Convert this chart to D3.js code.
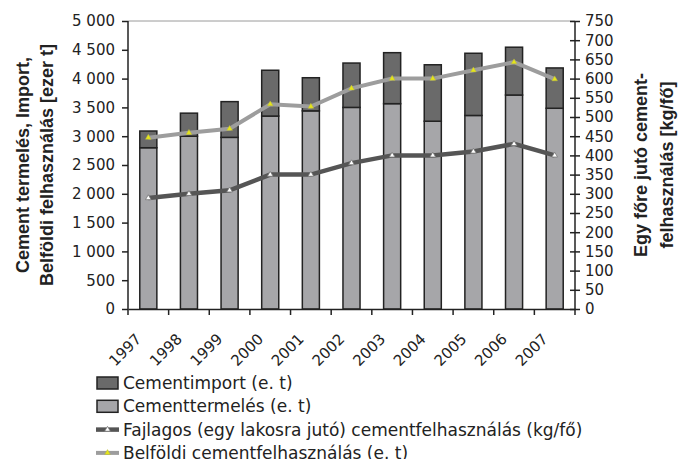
<!DOCTYPE html>
<html>
<head>
<meta charset="utf-8">
<script src="https://cdn.jsdelivr.net/npm/d3@7"></script>
<style>
  body { margin: 0; background: #fff; }
  svg { display: block; }
</style>
</head>
<body>
<svg></svg>
<script>
  // adatok
  let years = ['1997', '1998', '1999', '2000', '2001', '2002', '2003', '2004', '2005', '2006', '2007']
  let termeles = [2800, 3000, 2980, 3350, 3440, 3500, 3565, 3260, 3360, 3715, 3485]
  let importok = [290, 400, 620, 795, 575, 770, 885, 980, 1080, 830, 700]
  let belfoldi = [2975, 3060, 3130, 3555, 3515, 3830, 4000, 4000, 4145, 4285, 3990]
  let fajlagos = [289, 300, 309, 350, 350, 380, 400, 400, 410, 430, 400]
  let leftTicks = d3.range(0, 5001, 500)
  let rightTicks = d3.range(0, 751, 50)
  let legendLabels = ['Cementimport (e. t)', 'Cementtermelés (e. t)',
    'Fajlagos (egy lakosra jutó) cementfelhasználás (kg/fő)', 'Belföldi cementfelhasználás (e. t)']

  let svgWidth = 687, svgHeight = 459
  let plotLeft = 128, plotRight = 575, plotTop = 21, plotBottom = 309

  let svg = d3.select('svg')
    .attr('width', svgWidth)
    .attr('height', svgHeight)

  let loc = d3.formatLocale({ decimal: ',', thousands: ' ', grouping: [3], currency: ['', ''] })
  let fmt = loc.format(',d')

  let x = d3.scaleBand().domain(years).range([plotLeft, plotRight]).paddingInner(0.58).paddingOuter(0.29)
  let yL = d3.scaleLinear().domain([0, 5000]).range([plotBottom, plotTop])
  let yR = d3.scaleLinear().domain([0, 750]).range([plotBottom, plotTop])
  let cx = d => x(d) + x.bandwidth() / 2

  // felső keretvonal
  svg.append('line')
    .attr('x1', plotLeft).attr('x2', plotRight).attr('y1', plotTop).attr('y2', plotTop)
    .attr('stroke', '#9a9a9a').attr('stroke-width', 1)

  // oszlopok
  let bars = svg.append('g')
  bars.selectAll('.prod')
    .data(years)
    .enter()
    .append('rect')
    .attr('x', d => x(d))
    .attr('width', x.bandwidth())
    .attr('y', (d, i) => yL(termeles[i]))
    .attr('height', (d, i) => yL(0) - yL(termeles[i]))
    .attr('fill', '#a6a6a9')
    .attr('stroke', '#222')
    .attr('stroke-width', 1.5)
  bars.selectAll('.imp')
    .data(years)
    .enter()
    .append('rect')
    .attr('x', d => x(d))
    .attr('width', x.bandwidth())
    .attr('y', (d, i) => yL(termeles[i] + importok[i]))
    .attr('height', (d, i) => yL(termeles[i]) - yL(termeles[i] + importok[i]))
    .attr('fill', '#6a6a6a')
    .attr('stroke', '#222')
    .attr('stroke-width', 1.5)

  // vonalak
  let tri = d3.symbol().type(d3.symbolTriangle).size(14)
  let lineB = d3.line().x((d, i) => cx(years[i])).y(d => yL(d))
  let lineF = d3.line().x((d, i) => cx(years[i])).y(d => yR(d))

  svg.append('path').datum(belfoldi)
    .attr('d', lineB).attr('fill', 'none')
    .attr('stroke', '#9d9d9d').attr('stroke-width', 4)
  svg.append('g').selectAll('path')
    .data(belfoldi).enter().append('path')
    .attr('d', tri)
    .attr('transform', (d, i) => `translate(${cx(years[i])},${yL(d)})`)
    .attr('fill', '#e6e619').attr('stroke', '#b5b54a').attr('stroke-width', 0.5)

  svg.append('path').datum(fajlagos)
    .attr('d', lineF).attr('fill', 'none')
    .attr('stroke', '#555').attr('stroke-width', 4.5)
  svg.append('g').selectAll('path')
    .data(fajlagos).enter().append('path')
    .attr('d', tri)
    .attr('transform', (d, i) => `translate(${cx(years[i])},${yR(d)})`)
    .attr('fill', '#fff').attr('stroke', '#777').attr('stroke-width', 0.8)

  // tengelyek
  let tickFont = 'DejaVu Sans, Verdana, sans-serif'
  let axL = svg.append('g')
    .attr('transform', `translate(${plotLeft},0)`)
    .call(d3.axisLeft(yL).tickValues(leftTicks).tickFormat(fmt).tickSize(6).tickPadding(7))
  let axR = svg.append('g')
    .attr('transform', `translate(${plotRight},0)`)
    .call(d3.axisRight(yR).tickValues(rightTicks).tickSizeInner(5).tickSizeOuter(0).tickPadding(5))
  axR.selectAll('.tick line').attr('x1', -5)

  let axB = svg.append('g')
    .attr('transform', `translate(0,${plotBottom})`)
    .call(d3.axisBottom(x).tickSize(0).tickFormat(''))
  axB.selectAll('.tick').remove()
  axB.selectAll('.sep')
    .data(d3.range(years.length + 1))
    .enter()
    .append('line')
    .attr('x1', i => plotLeft + i * x.step()).attr('x2', i => plotLeft + i * x.step())
    .attr('y1', 0).attr('y2', 6)
    .attr('stroke', '#222').attr('stroke-width', 1.5)

  ;[axL, axR, axB].forEach(a => {
    a.select('.domain').attr('stroke', '#222').attr('stroke-width', 1.5)
    a.selectAll('.tick line').attr('stroke', '#222').attr('stroke-width', 1.5)
    a.selectAll('text').style('font-family', tickFont).style('font-size', '15px').attr('fill', '#222')
  })
  axL.select('.domain').attr('d', `M0,${plotTop}V${plotBottom}`)
  axR.select('.domain').attr('d', `M0,${plotTop}V${plotBottom}`)

  // évszámok
  svg.append('g').selectAll('text')
    .data(years)
    .enter()
    .append('text')
    .attr('transform', d => `translate(${cx(d) - 6},340) rotate(-45)`)
    .attr('text-anchor', 'end')
    .style('font-family', tickFont)
    .style('font-size', '15px')
    .attr('fill', '#222')
    .text(d => d)

  // tengelycímek
  let titleFont = 'Liberation Sans, Arial, sans-serif'
  let tl = svg.append('text')
    .attr('transform', 'translate(29,165) rotate(-90)')
    .attr('text-anchor', 'middle')
    .style('font-family', titleFont).style('font-size', '18px').style('font-weight', 'bold')
    .attr('fill', '#222')
  tl.append('tspan').attr('x', 0).attr('y', 0).text('Cement termelés, Import,')
  tl.append('tspan').attr('x', 0).attr('y', 24).text('Belföldi felhasználás [ezer t]')

  let tr = svg.append('text')
    .attr('transform', 'translate(647,165) rotate(-90)')
    .attr('text-anchor', 'middle')
    .style('font-family', titleFont).style('font-size', '18px').style('font-weight', 'bold')
    .attr('fill', '#222')
  tr.append('tspan').attr('x', 0).attr('y', 0).text('Egy főre jutó cement-')
  tr.append('tspan').attr('x', 0).attr('y', 26).text('felhasználás [kg/fő]')

  // jelmagyarázat
  let leg = svg.append('g')
  let rowY = i => 383 + i * 23.3
  leg.selectAll('text')
    .data(legendLabels)
    .enter()
    .append('text')
    .attr('x', 123)
    .attr('y', (d, i) => rowY(i) + 6)
    .style('font-family', tickFont)
    .style('font-size', '17px')
    .attr('fill', '#222')
    .text(d => d)

  leg.append('rect').attr('x', 97).attr('y', rowY(0) - 6).attr('width', 21).attr('height', 12)
    .attr('fill', '#6a6a6a').attr('stroke', '#222').attr('stroke-width', 1.5)
  leg.append('rect').attr('x', 97).attr('y', rowY(1) - 6).attr('width', 21).attr('height', 12)
    .attr('fill', '#a6a6a9').attr('stroke', '#222').attr('stroke-width', 1.5)

  leg.append('line').attr('x1', 96).attr('x2', 119).attr('y1', rowY(2)).attr('y2', rowY(2))
    .attr('stroke', '#555').attr('stroke-width', 4.5)
  leg.append('path').attr('d', tri).attr('transform', `translate(107.5,${rowY(2)})`)
    .attr('fill', '#fff').attr('stroke', '#777').attr('stroke-width', 0.8)
  leg.append('line').attr('x1', 96).attr('x2', 119).attr('y1', rowY(3)).attr('y2', rowY(3))
    .attr('stroke', '#9d9d9d').attr('stroke-width', 4)
  leg.append('path').attr('d', tri).attr('transform', `translate(107.5,${rowY(3)})`)
    .attr('fill', '#e6e619').attr('stroke', '#b5b54a').attr('stroke-width', 0.5)
</script>
</body>
</html>
